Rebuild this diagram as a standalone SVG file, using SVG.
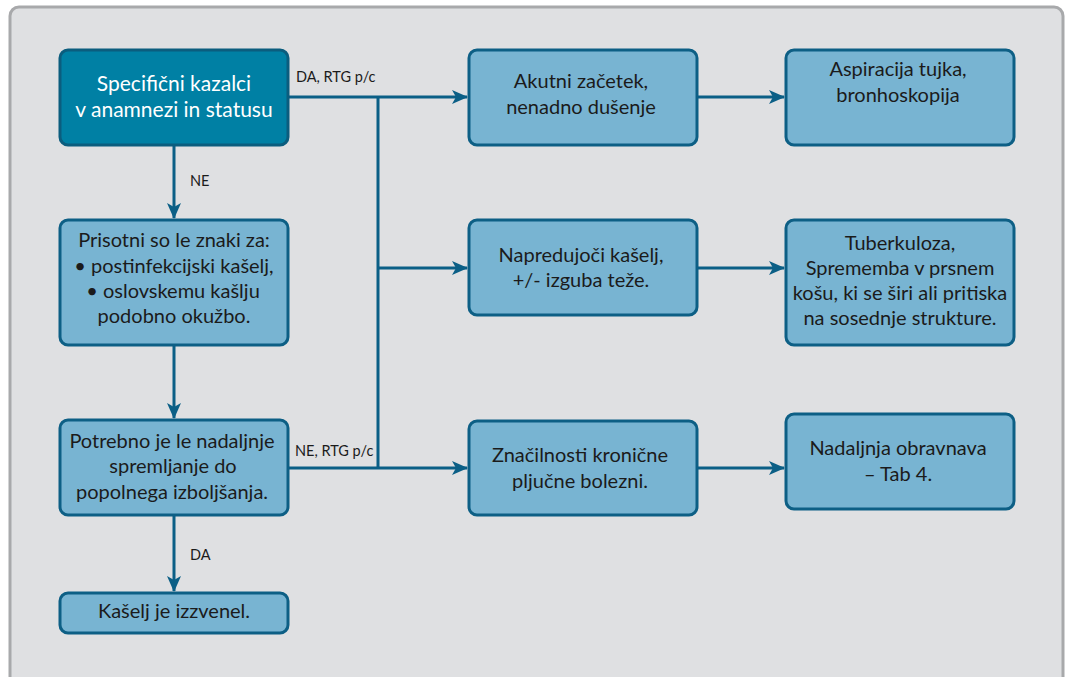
<svg xmlns="http://www.w3.org/2000/svg" width="1067" height="677" viewBox="0 0 1067 677">
<style>
.panel{fill:#dfe0e2;stroke:#a8a9ab;stroke-width:3}
.dark{fill:#0080a4;stroke:#0b5d7e;stroke-width:3}
.light{fill:#78b4d2;stroke:#0d5f85;stroke-width:3}
.t{font-family:Lato,"Liberation Sans",sans-serif;font-size:20px;fill:#1b1b1b;text-anchor:middle}
.w{fill:#ffffff;font-size:21px}
.lbl{font-family:Lato,"Liberation Sans",sans-serif;font-size:14.5px;fill:#1b1b1b}
.c{fill:none;stroke:#0b5f86;stroke-width:3}
</style>
<defs>
<marker id="ah" viewBox="0 0 16 14" refX="15" refY="7" markerWidth="16" markerHeight="14" markerUnits="userSpaceOnUse" orient="auto">
<path d="M0,0 L16,7 L0,14 L4,7 Z" fill="#0b5f86"/>
</marker>
</defs>
<rect class="panel" x="10" y="7" width="1053" height="690" rx="9"/>
<g id="connectors">
<path class="c" d="M288,97 H467" marker-end="url(#ah)"/>
<path class="c" d="M378,97 V468"/>
<path class="c" d="M378,268 H467" marker-end="url(#ah)"/>
<path class="c" d="M288,468 H467" marker-end="url(#ah)"/>
<path class="c" d="M697,97 H784" marker-end="url(#ah)"/>
<path class="c" d="M697,268 H784" marker-end="url(#ah)"/>
<path class="c" d="M697,468 H784" marker-end="url(#ah)"/>
<path class="c" d="M174,145 V218" marker-end="url(#ah)"/>
<path class="c" d="M174,345 V418" marker-end="url(#ah)"/>
<path class="c" d="M174,515 V591" marker-end="url(#ah)"/>
<text class="lbl" x="296" y="82">DA, RTG p/c</text>
<text class="lbl" x="190" y="186">NE</text>
<text class="lbl" x="295" y="456">NE, RTG p/c</text>
<text class="lbl" x="190" y="560">DA</text>
</g>
<g id="n1"><rect class="dark" x="60" y="50" width="228" height="95" rx="8"/>
<text class="t w" x="174" y="91">Specifični kazalci</text><text class="t w" x="174" y="117">v anamnezi in statusu</text></g>
<g id="n2"><rect class="light" x="469" y="50" width="228" height="95" rx="8"/>
<text class="t" x="581" y="88">Akutni začetek,</text><text class="t" x="581" y="114">nenadno dušenje</text></g>
<g id="n3"><rect class="light" x="786" y="50" width="228" height="95" rx="8"/>
<text class="t" x="898" y="76">Aspiracija tujka,</text><text class="t" x="898" y="102">bronhoskopija</text></g>
<g id="n4"><rect class="light" x="60" y="220" width="228" height="125" rx="8"/>
<text class="t" x="174" y="247">Prisotni so le znaki za:</text><text class="t" x="174" y="273">• postinfekcijski kašelj,</text><text class="t" x="173" y="298">• oslovskemu kašlju</text><text class="t" x="174" y="323">podobno okužbo.</text></g>
<g id="n5"><rect class="light" x="469" y="220" width="228" height="95" rx="8"/>
<text class="t" x="581" y="262">Napredujoči kašelj,</text><text class="t" x="581" y="287">+/- izguba teže.</text></g>
<g id="n6"><rect class="light" x="786" y="220" width="228" height="125" rx="8"/>
<text class="t" x="900" y="250">Tuberkuloza,</text><text class="t" x="900" y="275">Sprememba v prsnem</text><text class="t" x="900" y="300">košu, ki se širi ali pritiska</text><text class="t" x="900" y="325">na sosednje strukture.</text></g>
<g id="n7"><rect class="light" x="60" y="420" width="228" height="95" rx="8"/>
<text class="t" x="172" y="448">Potrebno je le nadaljnje</text><text class="t" x="173" y="473">spremljanje do</text><text class="t" x="172" y="499">popolnega izboljšanja.</text></g>
<g id="n8"><rect class="light" x="469" y="421" width="228" height="94" rx="8"/>
<text class="t" x="580" y="462">Značilnosti kronične</text><text class="t" x="580" y="488">pljučne bolezni.</text></g>
<g id="n9"><rect class="light" x="786" y="414" width="228" height="95" rx="8"/>
<text class="t" x="898" y="455">Nadaljnja obravnava</text><text class="t" x="898" y="481">– Tab 4.</text></g>
<g id="n10"><rect class="light" x="60" y="593" width="228" height="40" rx="8"/>
<text class="t" x="174" y="618">Kašelj je izzvenel.</text></g>
</svg>
